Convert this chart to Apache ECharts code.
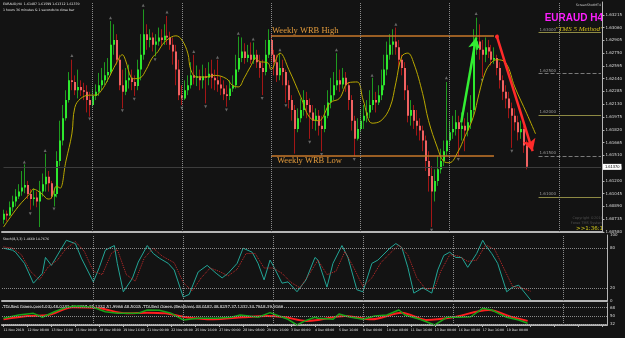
<!DOCTYPE html>
<html>
<head>
<meta charset="utf-8">
<script src="https://cdn.jsdelivr.net/npm/echarts@6.0.0/dist/echarts.min.js"></script>
<style>
html,body{margin:0;padding:0;background:#131313;overflow:hidden;}
#chart{width:625px;height:338px;}
</style>
</head>
<body>
<div id="chart"></div>
<script>
// EURAUD H4, 11 Nov - 19 Dec 2019
const firstOpen = 1.6073;
const closes = [1.6080,1.6078,1.6088,1.6095,1.6101,1.6107,1.6112,1.6115,1.6104,1.6098,
  1.6100,1.6095,1.6107,1.6116,1.6125,1.6117,1.6101,1.6104,1.6144,1.6169,
  1.6196,1.6218,1.6242,1.6240,1.6230,1.6234,1.6230,1.6228,1.6218,1.6212,
  1.6223,1.6228,1.6236,1.6242,1.6248,1.6252,1.6285,1.6291,1.6267,1.6236,
  1.6228,1.6242,1.6245,1.6240,1.6235,1.6255,1.6273,1.6298,1.6291,1.6294,
  1.6285,1.6289,1.6294,1.6291,1.6296,1.6294,1.6285,1.6277,1.6255,1.6224,
  1.6220,1.6230,1.6236,1.6248,1.6245,1.6247,1.6242,1.6247,1.6245,1.6250,
  1.6245,1.6242,1.6237,1.6232,1.6225,1.6223,1.6232,1.6236,1.6255,1.6269,
  1.6277,1.6269,1.6273,1.6267,1.6273,1.6264,1.6257,1.6252,1.6273,1.6291,
  1.6273,1.6264,1.6248,1.6257,1.6252,1.6236,1.6218,1.6206,1.6183,1.6196,
  1.6206,1.6218,1.6212,1.6203,1.6193,1.6199,1.6187,1.6183,1.6199,1.6215,
  1.6224,1.6236,1.6242,1.6237,1.6245,1.6236,1.6218,1.6193,1.6171,1.6183,
  1.6193,1.6199,1.6203,1.6212,1.6218,1.6215,1.6224,1.6236,1.6255,1.6273,
  1.6285,1.6289,1.6282,1.6267,1.6257,1.6230,1.6199,1.6206,1.6193,1.6187,
  1.6181,1.6169,1.6144,1.6126,1.6107,1.6120,1.6134,1.6144,1.6156,1.6169,
  1.6179,1.6183,1.6191,1.6183,1.6187,1.6181,1.6191,1.6206,1.6279,1.6289,
  1.6279,1.6273,1.6282,1.6277,1.6267,1.6269,1.6257,1.6242,1.6228,1.6220,
  1.6208,1.6199,1.6191,1.6179,1.6183,1.6163,1.6137];
const highs = [1.6085,1.6084,1.6095,1.6102,1.6110,1.6116,1.6132,1.6140,1.6120,1.6110,
  1.6111,1.6107,1.6120,1.6129,1.6153,1.6132,1.6120,1.6112,1.6156,1.6193,
  1.6212,1.6230,1.6252,1.6267,1.6248,1.6255,1.6242,1.6239,1.6236,1.6228,
  1.6232,1.6237,1.6251,1.6257,1.6264,1.6269,1.6314,1.6310,1.6298,1.6273,
  1.6255,1.6257,1.6261,1.6255,1.6248,1.6267,1.6298,1.6328,1.6310,1.6304,
  1.6300,1.6298,1.6306,1.6304,1.6310,1.6320,1.6301,1.6294,1.6285,1.6267,
  1.6236,1.6242,1.6248,1.6264,1.6273,1.6260,1.6255,1.6261,1.6257,1.6264,
  1.6267,1.6255,1.6267,1.6247,1.6242,1.6236,1.6242,1.6248,1.6273,1.6295,
  1.6294,1.6287,1.6285,1.6288,1.6288,1.6279,1.6273,1.6267,1.6291,1.6304,
  1.6298,1.6279,1.6273,1.6275,1.6267,1.6255,1.6242,1.6224,1.6212,1.6208,
  1.6220,1.6230,1.6228,1.6220,1.6212,1.6208,1.6206,1.6199,1.6212,1.6230,
  1.6245,1.6252,1.6275,1.6255,1.6257,1.6252,1.6240,1.6224,1.6199,1.6196,
  1.6206,1.6212,1.6218,1.6230,1.6245,1.6228,1.6236,1.6255,1.6273,1.6289,
  1.6298,1.6304,1.6306,1.6291,1.6273,1.6264,1.6236,1.6218,1.6212,1.6206,
  1.6196,1.6187,1.6175,1.6156,1.6138,1.6134,1.6150,1.6159,1.6169,1.6240,
  1.6193,1.6199,1.6206,1.6199,1.6203,1.6196,1.6203,1.6224,1.6304,1.6318,
  1.6310,1.6291,1.6294,1.6291,1.6285,1.6282,1.6273,1.6264,1.6248,1.6236,
  1.6228,1.6215,1.6208,1.6199,1.6193,1.6187,1.6169];
const lows = [1.6068,1.6071,1.6077,1.6083,1.6089,1.6098,1.6102,1.6105,1.6098,1.6085,
  1.6090,1.6088,1.6064,1.6101,1.6107,1.6107,1.6098,1.6089,1.6100,1.6138,
  1.6163,1.6193,1.6215,1.6230,1.6224,1.6220,1.6223,1.6218,1.6203,1.6198,
  1.6210,1.6218,1.6223,1.6230,1.6236,1.6240,1.6248,1.6273,1.6261,1.6230,
  1.6208,1.6224,1.6232,1.6230,1.6223,1.6230,1.6242,1.6267,1.6279,1.6282,
  1.6277,1.6271,1.6284,1.6283,1.6285,1.6285,1.6279,1.6261,1.6236,1.6218,
  1.6212,1.6218,1.6224,1.6232,1.6237,1.6235,1.6230,1.6232,1.6214,1.6236,
  1.6232,1.6230,1.6228,1.6224,1.6218,1.6210,1.6218,1.6228,1.6232,1.6252,
  1.6264,1.6262,1.6264,1.6262,1.6262,1.6257,1.6245,1.6224,1.6248,1.6269,
  1.6264,1.6248,1.6240,1.6242,1.6236,1.6215,1.6208,1.6193,1.6153,1.6179,
  1.6191,1.6199,1.6196,1.6171,1.6183,1.6181,1.6175,1.6156,1.6179,1.6196,
  1.6208,1.6218,1.6230,1.6228,1.6232,1.6228,1.6206,1.6181,1.6150,1.6169,
  1.6179,1.6183,1.6191,1.6196,1.6206,1.6203,1.6212,1.6218,1.6230,1.6248,
  1.6267,1.6273,1.6273,1.6257,1.6248,1.6218,1.6191,1.6187,1.6183,1.6175,
  1.6169,1.6156,1.6132,1.6107,1.6064,1.6095,1.6114,1.6129,1.6138,1.6150,
  1.6163,1.6171,1.6175,1.6150,1.6169,1.6156,1.6174,1.6183,1.6199,1.6273,
  1.6267,1.6246,1.6264,1.6269,1.6260,1.6262,1.6248,1.6232,1.6218,1.6208,
  1.6196,1.6160,1.6181,1.6169,1.6171,1.6154,1.6134];

// moving average: [bar, price]
const maLine = [[0,1.6064],[5,1.6089],[9,1.6105],[10,1.6110],[13,1.6104],[15,1.6098],[16,1.6099],
  [18,1.6114],[19,1.6111],[21,1.6144],[23,1.6177],[24,1.6209],[26,1.6220],[29,1.6224],[31,1.6224],
  [33,1.6230],[35,1.6242],[38,1.6263],[40,1.6273],[41,1.6267],[43,1.6245],[44,1.6244],[46,1.6245],
  [48,1.6255],[50,1.6269],[52,1.6277],[53,1.6283],[55,1.6291],[58,1.6296],[60,1.6291],[62,1.6275],
  [63,1.6255],[65,1.6246],[68,1.6246],[71,1.6248],[75,1.6244],[77,1.6236],[79,1.6234],[81,1.6245],
  [83,1.6258],[85,1.6269],[86,1.6265],[89,1.6263],[90,1.6255],[93,1.6275],[96,1.6255],[100,1.6222],
  [103,1.6197],[106,1.6193],[110,1.6215],[113,1.6220],[116,1.6239],[119,1.6240],[121,1.6218],
  [124,1.6190],[127,1.6193],[130,1.6209],[132,1.6239],[134,1.6271],[136,1.6275],[138,1.6263],
  [141,1.6226],[143,1.6193],[146,1.6160],[148,1.6144],[150,1.6142],[153,1.6156],[155,1.6172],
  [158,1.6197],[160,1.6226],[162,1.6251],[164,1.6263],[166,1.6267],[169,1.6263],[172,1.6234],
  [176,1.6202],[179,1.6177]];

const fractalUp = [[7,1.6143],[14,1.6157],[23,1.6272],[36,1.6318],[47,1.6333],[55,1.6325],[64,1.6277],
  [72,1.6270],[79,1.6299],[84,1.6292],[93,1.6279],[112,1.6279],[124,1.6248],[132,1.6310],
  [149,1.6245],[159,1.6323]];
const fractalDown = [[9,1.6080],[17,1.6086],[29,1.6195],[40,1.6205],[44,1.6219],[51,1.6267],[60,1.6208],
  [68,1.6210],[75,1.6206],[87,1.6220],[95,1.6211],[103,1.6167],[107,1.6152],[118,1.6146],
  [144,1.6060],[153,1.6146],[161,1.6242],[171,1.6156]];

const wrbHigh = 1.6296, wrbLow = 1.6151;
const roundLevels = [1.630, 1.625, 1.620, 1.615, 1.610];
const bidPrice = 1.6137;

// Stochastic (8,3,3)
const stochK = [[0,80],[3,77],[4,74],[7,57],[10,27],[13,42],[14,66],[16,54],[19,77],[21,92],[24,87],
  [26,65],[30,29],[32,51],[34,77],[37,84],[38,57],[40,14],[43,34],[45,59],[48,84],[50,72],[52,65],
  [55,57],[57,47],[60,6],[62,10],[65,44],[68,54],[71,42],[73,35],[75,42],[78,57],[80,80],[83,74],
  [85,57],[87,32],[89,62],[90,54],[93,27],[95,29],[98,14],[101,32],[104,66],[105,62],[108,21],
  [110,57],[113,84],[115,66],[118,17],[120,14],[123,57],[125,62],[129,80],[131,87],[133,81],[135,51],
  [137,12],[140,20],[143,12],[145,47],[147,69],[149,74],[151,66],[153,66],[155,51],[158,72],[160,92],
  [161,84],[163,72],[165,57],[168,14],[170,21],[172,24],[176,1.5]];
const stochD = [[0,82],[3,80],[6,70],[9,45],[12,32],[15,52],[18,62],[21,80],[24,90],[27,75],[30,45],
  [33,40],[36,72],[38,78],[41,40],[44,30],[47,65],[50,80],[53,68],[57,58],[60,28],[63,15],[66,35],
  [69,50],[72,45],[75,38],[78,48],[81,72],[84,72],[87,50],[90,50],[93,42],[96,28],[99,20],[102,40],
  [105,62],[108,40],[111,45],[114,75],[117,50],[120,22],[123,35],[126,58],[129,72],[132,85],[135,70],
  [138,35],[141,18],[144,20],[146,45],[149,70],[152,68],[155,60],[158,62],[161,85],[164,78],[167,50],
  [170,22],[173,20],[176,14.8]];

// TDI Red Green
const tdiGreen = [[0,44.6],[5,51.8],[10,55.5],[13,46.8],[17,59],[21,68.6],[24,71.5],[30,68.6],[34,59],
  [38,55.5],[41,55.5],[45,55.5],[48,62.7],[52,62],[56,55.5],[60,41],[65,44.6],[71,44.6],[76,46.8],
  [79,51.8],[82,49.5],[85,46.8],[89,57],[92,49.5],[95,42.4],[98,30],[101,40],[104,46.8],[105,44.6],
  [110,42.4],[112,54],[116,46.8],[120,42.4],[124,49.5],[128,51.8],[132,62.7],[134,51.8],[139,42.4],
  [144,30],[148,46.8],[152,46.8],[156,48],[160,66.4],[163,62.7],[168,46.8],[172,41],[175,33.7]];
const tdiRed = [[0,42.4],[8,49.5],[15,51.8],[23,68.6],[32,66.4],[41,55.5],[48,57],[54,55.5],[61,46.8],
  [70,42.4],[80,46.8],[88,49.5],[94,46.8],[101,39],[105,41],[114,49.5],[123,42.4],[133,57],[141,41],
  [150,46.8],[162,62.7],[170,46.8],[175,39]];

const timeLabels = ['11 Nov 2019','12 Nov 08:00','13 Nov 16:00','15 Nov 00:00','18 Nov 08:00',
  '19 Nov 16:00','21 Nov 00:00','22 Nov 08:00','25 Nov 16:00','27 Nov 00:00','28 Nov 08:00',
  '29 Nov 16:00','3 Dec 00:00','4 Dec 08:00','5 Dec 16:00','9 Dec 00:00','10 Dec 08:00',
  '11 Dec 16:00','13 Dec 00:00','16 Dec 08:00','17 Dec 16:00','19 Dec 00:00'];
const weekBars = [30, 60, 90, 120, 150, 187];

const slots = 202; // bars + chart shift
const cats = [];
for (let i = 0; i < slots; i++) cats.push(i);

const candleData = closes.map((c, i) => {
  const o = i === 0 ? firstOpen : closes[i - 1];
  return [i, o, c, Math.min(lows[i], o, c), Math.max(highs[i], o, c)];
});

const chart = echarts.init(document.getElementById('chart'));
const axisGray = '#b4b4b4';
const smallFont = 'DejaVu Sans';

function xAx(g, withLabels) {
  return {
    type: 'category', gridIndex: g, data: cats, boundaryGap: true,
    axisLine: {show: true, lineStyle: {color: axisGray, width: 2}},
    axisTick: withLabels ? {show: true, interval: 7, alignWithLabel: true, length: 2, lineStyle: {color: axisGray}} : {show: false},
    axisLabel: withLabels ? {
      show: true, interval: 7, align: 'left', fontSize: 3.2, color: '#e0e0e0', margin: 4, fontFamily: smallFont,
      showMinLabel: true, hideOverlap: false,
      formatter: (v, idx) => timeLabels[idx / 8] || ''
    } : {show: false},
    splitLine: {show: false}
  };
}
const vLines = weekBars.map(b => ({xAxis: b}));
const sepStyle = {color: '#8a8a8a', type: 'dotted', width: 1};

const mainMarks = [];
mainMarks.push([{coord: [90, wrbHigh], lineStyle: {color: '#c8792a', width: 1.5, type: 'solid'},
  label: {show: true, position: 'insideStartTop', formatter: 'Weekly WRB High', color: '#e39b3c', fontSize: 8.5, fontFamily: 'Liberation Serif', distance: 1}},
  {coord: [165, wrbHigh]}]);
mainMarks.push([{coord: [90, wrbLow], lineStyle: {color: '#c8792a', width: 1.5, type: 'solid'},
  label: {show: true, position: 'insideStartBottom', formatter: 'Weekly WRB Low', color: '#e39b3c', fontSize: 8.5, fontFamily: 'Liberation Serif', distance: 1, padding: [0, 0, 0, 5]}},
  {coord: [165, wrbLow]}]);
roundLevels.forEach(v => {
  const half = Math.round(v * 1000) % 10 !== 0;
  mainMarks.push([{coord: [180, v],
    lineStyle: half ? {color: '#7a7a7a', type: 'dashed', width: 1} : {color: '#8e8a44', type: 'solid', width: 1},
    label: {show: true, position: 'insideStartTop', formatter: v.toFixed(5), color: '#9a9a9a', fontSize: 4, fontFamily: smallFont, distance: 1}},
    {coord: [201, v]}]);
});
mainMarks.push([{coord: [0, bidPrice], lineStyle: {color: '#3c3c3c', type: 'solid', width: 1},
  label: {show: true, position: 'end', formatter: bidPrice.toFixed(5), backgroundColor: '#ffffff', color: '#000', fontSize: 4, padding: [1, 2], distance: 2}},
  {coord: [201, bidPrice]}]);
weekBars.forEach(b => mainMarks.push({xAxis: b, lineStyle: sepStyle}));
mainMarks.push([{coord: [154, 1.6191], symbol: 'none', lineStyle: {color: '#33ee33', width: 2.5, type: 'solid'}},
  {coord: [159, 1.6294], symbol: 'arrow', symbolSize: [9, 11]}]);
mainMarks.push([{coord: [166, 1.6295], symbol: 'circle', symbolSize: 4, lineStyle: {color: '#ff2a2a', width: 2.5, type: 'solid'}},
  {coord: [178, 1.6156], symbol: 'arrow', symbolSize: [10, 12]}]);

const option = {
  backgroundColor: '#131313',
  animation: false,
  grid: [
    {left: 2, right: 18, top: 2, height: 230},
    {left: 2, right: 18, top: 235, height: 66},
    {left: 2, right: 18, top: 303, height: 22}
  ],
  xAxis: [xAx(0, false), xAx(1, false), xAx(2, true)],
  yAxis: [
    {type: 'value', gridIndex: 0, position: 'right', min: 1.6058, max: 1.6337, interval: 0.00155,
      axisLine: {show: true, lineStyle: {color: axisGray}}, axisTick: {show: true, length: 2, lineStyle: {color: axisGray}},
      axisLabel: {fontSize: 4, color: '#d8d8d8', margin: 3, fontFamily: smallFont, showMaxLabel: false, formatter: v => v.toFixed(5)},
      splitLine: {show: false}},
    {type: 'value', gridIndex: 1, position: 'right', min: 0, max: 100,
      axisLine: {show: true, lineStyle: {color: axisGray}}, axisTick: {show: false},
      axisLabel: {fontSize: 4, color: '#d8d8d8', margin: 3, fontFamily: smallFont, customValues: [0, 20, 80, 100]},
      splitLine: {show: false}},
    {type: 'value', gridIndex: 2, position: 'right', min: 30, max: 78,
      axisLine: {show: true, lineStyle: {color: axisGray}}, axisTick: {show: false},
      axisLabel: {fontSize: 4, color: '#d8d8d8', margin: 3, fontFamily: smallFont, customValues: [32, 50, 68]},
      splitLine: {show: false}}
  ],
  series: [
    {
      type: 'custom', xAxisIndex: 0, yAxisIndex: 0, data: candleData,
      encode: {x: 0, y: [1, 2, 3, 4]},
      renderItem: function (params, api) {
        const i = api.value(0), o = api.value(1), c = api.value(2), l = api.value(3), h = api.value(4);
        const up = c >= o;
        const pTop = api.coord([i, Math.max(o, c)]);
        const pBot = api.coord([i, Math.min(o, c)]);
        const pH = api.coord([i, h]);
        const pL = api.coord([i, l]);
        const x = Math.floor(pTop[0]);
        const bh = Math.max(1, pBot[1] - pTop[1]);
        return {type: 'group', children: [
          {type: 'line', shape: {x1: x + 0.5, y1: pH[1], x2: x + 0.5, y2: pL[1]},
            style: {stroke: up ? '#1f9a1f' : '#a31616', lineWidth: 1}},
          {type: 'rect', shape: {x: x, y: pTop[1], width: 2, height: bh},
            style: {fill: up ? '#2ee82e' : '#f06262'}}
        ]};
      }
    },
    {
      type: 'line', xAxisIndex: 0, yAxisIndex: 0, data: maLine, smooth: 0.4, symbol: 'none',
      lineStyle: {color: '#b9a800', width: 1},
      markLine: {silent: true, symbol: ['none', 'none'], label: {show: false}, animation: false, data: mainMarks}
    },
    {type: 'scatter', xAxisIndex: 0, yAxisIndex: 0, data: fractalUp, symbol: 'triangle', symbolSize: [3, 3],
      itemStyle: {color: '#7c7c7c'}},
    {type: 'scatter', xAxisIndex: 0, yAxisIndex: 0, data: fractalDown, symbol: 'triangle', symbolRotate: 180, symbolSize: [3, 3],
      itemStyle: {color: '#7c7c7c'}},
    {
      type: 'line', xAxisIndex: 1, yAxisIndex: 1, data: stochK, symbol: 'none',
      lineStyle: {color: '#23a596', width: 1},
      markLine: {silent: true, symbol: ['none', 'none'], label: {show: false}, lineStyle: sepStyle,
        data: [{yAxis: 80}, {yAxis: 20}].concat(vLines)}
    },
    {type: 'line', xAxisIndex: 1, yAxisIndex: 1, data: stochD, symbol: 'none',
      lineStyle: {color: '#c42a2a', width: 1, type: 'dotted'}},
    {type: 'line', xAxisIndex: 2, yAxisIndex: 2, data: tdiRed, symbol: 'none', smooth: 0.3,
      lineStyle: {color: '#ff1e1e', width: 2},
      markLine: {silent: true, symbol: ['none', 'none'], label: {show: false}, lineStyle: sepStyle,
        data: [{yAxis: 68}, {yAxis: 50}, {yAxis: 32}].concat(vLines)}},
    {type: 'line', xAxisIndex: 2, yAxisIndex: 2, data: tdiGreen, symbol: 'none',
      lineStyle: {color: '#18a418', width: 1.5}}
  ],
  graphic: [
    {type: 'text', left: 3, top: 3, style: {text: 'EURAUD,H4  1.61487 1.61599 1.61312 1.61370', fill: '#e6e6e6', font: '3.2px "DejaVu Sans"'}},
    {type: 'text', left: 3, top: 9, style: {text: '1 hours 36 minutes & 1 seconds to close bar', fill: '#e6e6e6', font: '3.2px "DejaVu Sans"'}},
    {type: 'text', right: 24, top: 4, style: {text: 'ScreenShotMT4', fill: '#d0d0d0', font: '3.2px "DejaVu Sans"'}},
    {type: 'text', right: 22, top: 13, style: {text: 'EURAUD H4', fill: '#ff1eff', font: 'bold 10px "Liberation Sans"'}},
    {type: 'text', right: 22, top: 26, style: {text: '"TMS 5 Method"', fill: '#d8c21e', font: 'italic 7px "Liberation Serif"'}},
    {type: 'text', right: 22, top: 216, style: {text: 'Copyright ©2019', fill: '#4e4e4e', font: '3.5px "DejaVu Sans"'}},
    {type: 'text', right: 22, top: 221, style: {text: 'Forex TMS System', fill: '#4e4e4e', font: '3.5px "DejaVu Sans"'}},
    {type: 'text', right: 22, top: 226, style: {text: '>>1:36:1', fill: '#d6cc1a', font: '5.5px "DejaVu Sans"'}},
    {type: 'text', left: 3, top: 238, style: {text: 'Stoch(8,3,3) 1.4660 14.7676', fill: '#e6e6e6', font: '3.2px "DejaVu Sans"'}},
    {type: 'text', left: 3, top: 305, style: {text: 'TDI Red Green (ver4.03) 48.0182 48.8257 37.1332 51.9966 48.5015  TDI Red Green (Realtime) 48.0182 48.8257 37.1332 34.7918 39.9166', fill: '#e6e6e6', font: '4px "DejaVu Sans"'}}
  ]
};
chart.setOption(option);
</script>
</body>
</html>
